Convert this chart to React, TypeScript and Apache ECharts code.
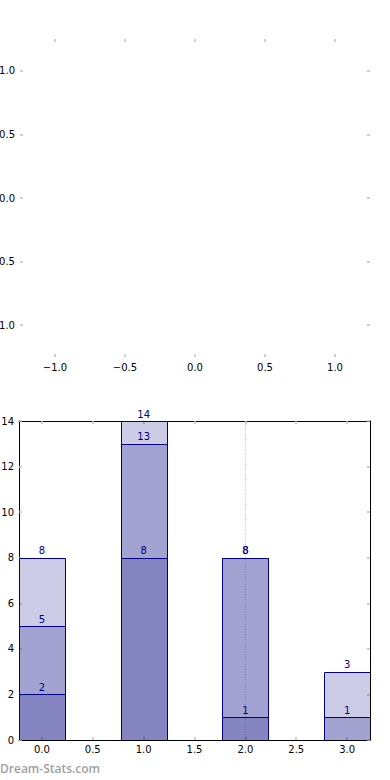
import React, { useEffect, useRef } from 'react';
import * as echarts from 'echarts';

// ---- data ----
const barPositions = [0, 1, 2, 3];
const layerBottom = [2, 8, 1, 0];
const layerMiddle = [3, 5, 7, 1];
const layerTop = [3, 1, 0, 2];
const barXTickValues = [0, 0.5, 1, 1.5, 2, 2.5, 3];
const barYTickValues = [0, 2, 4, 6, 8, 10, 12, 14];
const emptyTickValues = [-1, -0.5, 0, 0.5, 1];
const markedX = 2;
const watermark = 'Dream-Stats.com';

// ---- styles ----
const FONT = '"DejaVu Sans", sans-serif';
const layerColors = ['rgba(0,0,128,0.48)', 'rgba(0,0,128,0.36)', 'rgba(0,0,128,0.2)'];
const BAR_WIDTH = 0.45;
const TICK_COLOR = '#c0c0c0';

const fmt1 = (v: number) => {
  const s = Number(v).toFixed(1);
  return s.startsWith('-') ? '\u2212' + s.slice(1) : s;
};

export default function App() {
  const ref = useRef<HTMLDivElement>(null);

  useEffect(() => {
    if (!ref.current) return;
    const chart = echarts.init(ref.current, undefined, { renderer: 'svg' });

    const layers = [layerBottom, layerMiddle, layerTop];
    const segments: number[][] = [];
    const labels: number[][] = [];
    barPositions.forEach((x, i) => {
      let base = 0;
      layers.forEach((layer, l) => {
        const top = base + layer[i];
        segments.push([x, base, top, l]);
        if (top > 0) labels.push([x, top]);
        base = top;
      });
    });

    const tickStyle = (values: number[]) => ({
      show: true,
      inside: true,
      length: 3,
      customValues: values,
      lineStyle: { color: TICK_COLOR, width: 1.5 },
    });

    const labelStyle = (values: number[], margin: number, formatter: any, show = true) => ({
      show,
      customValues: values,
      margin,
      color: '#000',
      fontSize: 10,
      fontFamily: FONT,
      formatter,
    });

    const fmtInt = (v: number) => String(Math.round(v));
    const hiddenLine = { show: false, onZero: false };
    const blackLine = { show: true, onZero: false, lineStyle: { color: '#000', width: 1 } };

    chart.setOption({
      animation: false,
      grid: [
        { left: 20, right: 20, top: 39, bottom: 423, containLabel: false, outerBoundsMode: 'none' },
        { left: 19, right: 20, top: 421, bottom: 40, containLabel: false, outerBoundsMode: 'none' },
      ],
      xAxis: [
        {
          gridIndex: 0, type: 'value', position: 'bottom', min: -1.25, max: 1.25,
          axisLine: hiddenLine, axisTick: tickStyle(emptyTickValues),
          axisLabel: labelStyle(emptyTickValues, 5, fmt1), splitLine: { show: false },
        },
        {
          gridIndex: 0, type: 'value', position: 'top', min: -1.25, max: 1.25,
          axisLine: hiddenLine, axisTick: tickStyle(emptyTickValues),
          axisLabel: { show: false }, splitLine: { show: false },
        },
        {
          gridIndex: 1, type: 'value', position: 'bottom', min: -0.225, max: 3.225,
          axisLine: blackLine,
          axisTick: tickStyle(barXTickValues),
          axisLabel: labelStyle(barXTickValues, 4, fmt1), splitLine: { show: false },
        },
        {
          gridIndex: 1, type: 'value', position: 'top', min: -0.225, max: 3.225,
          axisLine: blackLine,
          axisTick: tickStyle(barXTickValues),
          axisLabel: { show: false }, splitLine: { show: false },
        },
      ],
      yAxis: [
        {
          gridIndex: 0, type: 'value', position: 'left', min: -1.25, max: 1.25,
          axisLine: hiddenLine, axisTick: tickStyle(emptyTickValues),
          axisLabel: labelStyle(emptyTickValues, 5, fmt1), splitLine: { show: false },
        },
        {
          gridIndex: 0, type: 'value', position: 'right', min: -1.25, max: 1.25,
          axisLine: hiddenLine, axisTick: tickStyle(emptyTickValues),
          axisLabel: { show: false }, splitLine: { show: false },
        },
        {
          gridIndex: 1, type: 'value', position: 'left', min: 0, max: 14, interval: 2,
          axisLine: blackLine,
          axisTick: tickStyle(barYTickValues),
          axisLabel: labelStyle(barYTickValues, 5, fmtInt), splitLine: { show: false },
        },
        {
          gridIndex: 1, type: 'value', position: 'right', min: 0, max: 14, interval: 2,
          axisLine: blackLine,
          axisTick: tickStyle(barYTickValues),
          axisLabel: { show: false }, splitLine: { show: false },
        },
      ],
      series: [
        {
          type: 'line',
          xAxisIndex: 2,
          yAxisIndex: 2,
          data: [[markedX, 0], [markedX, 14]],
          symbol: 'none',
          silent: true,
          z: 1,
          lineStyle: { color: '#c4c4c4', width: 1.2, type: [1, 1.5] },
        },
        {
          type: 'custom',
          xAxisIndex: 2,
          yAxisIndex: 2,
          z: 2,
          clip: true,
          data: segments,
          renderItem: (params: any, api: any) => {
            const x = api.value(0);
            const b = api.value(1);
            const t = api.value(2);
            const l = api.value(3);
            const p1 = api.coord([x - BAR_WIDTH / 2, t]);
            const p2 = api.coord([x + BAR_WIDTH / 2, b]);
            const x1 = Math.round(p1[0]) + 0.5;
            const x2 = Math.round(p2[0]) + 0.5;
            const y1 = Math.round(p1[1]) + 0.5;
            const y2 = Math.round(p2[1]) + 0.5;
            return {
              type: 'rect',
              shape: { x: x1, y: y1, width: x2 - x1, height: y2 - y1 },
              style: { fill: layerColors[l], stroke: '#000080', lineWidth: 1 },
            };
          },
        },
        {
          type: 'custom',
          xAxisIndex: 2,
          yAxisIndex: 2,
          z: 3,
          clip: false,
          data: labels,
          renderItem: (params: any, api: any) => {
            const p = api.coord([api.value(0), api.value(1)]);
            return {
              type: 'text',
              x: p[0],
              y: p[1] - 7,
              style: {
                text: String(api.value(1)),
                align: 'center',
                verticalAlign: 'middle',
                fill: '#000080',
                font: `10px ${FONT}`,
              },
            };
          },
        },
      ],
      graphic: [
        {
          type: 'text',
          left: 0,
          top: 762,
          style: {
            text: watermark,
            fill: '#a0a0a0',
            font: `600 12px "Open Sans", sans-serif`,
          },
        },
      ],
    });

    return () => chart.dispose();
  }, []);

  return (
    <div
      ref={ref}
      style={{ position: 'fixed', left: 0, top: 0, width: 390, height: 780, background: '#fff' }}
    />
  );
}
